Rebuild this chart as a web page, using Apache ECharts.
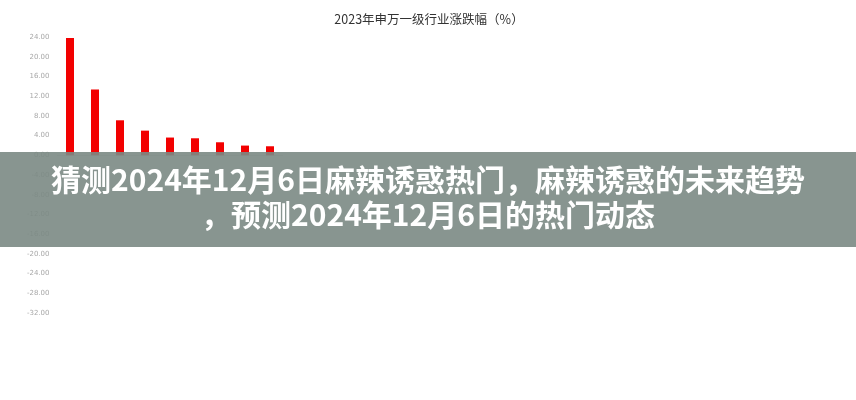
<!DOCTYPE html>
<html>
<head>
<meta charset="utf-8">
<script src="https://cdn.jsdelivr.net/npm/echarts@6/dist/echarts.min.js"></script>
<style>
html,body{margin:0;padding:0;background:#fff;}
#chart{width:856px;height:400px;}
</style>
</head>
<body>
<div id="chart"></div>
<script>
var categories = ['通信', '传媒', '煤炭', '汽车', '石油石化', '机械设备', '家用电器', '电子', '公用事业'];
var values = [23.8, 13.35, 7.1, 5.0, 3.6, 3.45, 2.64, 1.97, 1.83];
var titleText = '2023年申万一级行业涨跌幅（%）';
var bannerLine1 = '猜测2024年12月6日麻辣诱惑热门，麻辣诱惑的未来趋势';
var bannerLine2 = '，预测2024年12月6日的热门动态';

var chart = echarts.init(document.getElementById('chart'));
chart.setOption({
  backgroundColor: '#ffffff',
  animation: false,
  title: {
    text: titleText,
    left: 424,
    top: 8,
    textAlign: 'center',
    textStyle: { fontSize: 12.5, fontWeight: 'normal', color: '#333', fontFamily: 'Noto Sans CJK SC' }
  },
  grid: { left: 57.5, right: 573.5, top: 37, bottom: 87, containLabel: false },
  xAxis: {
    type: 'category',
    data: categories,
    axisLine: { show: true, lineStyle: { color: '#d9d9d9' } },
    axisTick: { show: false },
    axisLabel: { show: false }
  },
  yAxis: {
    type: 'value',
    min: -32, max: 24, interval: 4,
    axisLine: { show: false },
    axisTick: { show: false },
    splitLine: { show: false },
    axisLabel: {
      margin: 8,
      fontSize: 7,
      color: '#a8a8a8',
      fontFamily: 'DejaVu Sans',
      formatter: function (v) { return v.toFixed(2); }
    }
  },
  series: [{
    type: 'bar',
    data: values,
    barWidth: 8,
    itemStyle: { color: '#f20000' }
  }],
  graphic: [
    {
      type: 'rect',
      left: 0, top: 152,
      shape: { width: 856, height: 95 },
      style: { fill: 'rgba(123,138,132,0.9)' },
      z: 100
    },
    {
      type: 'text',
      left: 'center',
      top: 165,
      style: {
        text: bannerLine1,
        fill: '#ffffff',
        font: 'bold 30px "Noto Sans CJK SC"'
      },
      z: 101
    },
    {
      type: 'text',
      left: 'center',
      top: 200,
      style: {
        text: bannerLine2,
        fill: '#ffffff',
        font: 'bold 30px "Noto Sans CJK SC"'
      },
      z: 101
    }
  ]
});
</script>
</body>
</html>
